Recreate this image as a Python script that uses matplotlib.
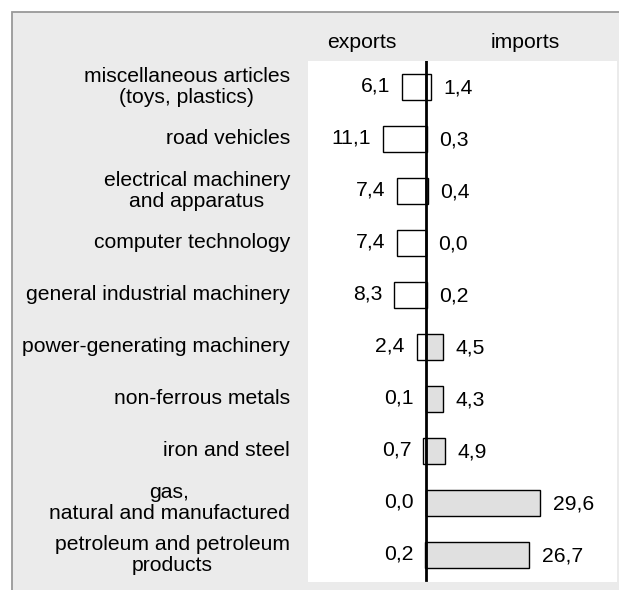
import numpy as np
import matplotlib.pyplot as plt
from matplotlib.patches import Rectangle

plt.rcParams['font.family'] = ['Liberation Sans', 'DejaVu Sans']

# data, top to bottom
categories = [
    "miscellaneous articles\n(toys, plastics)",
    "road vehicles",
    "electrical machinery\nand apparatus",
    "computer technology",
    "general industrial machinery",
    "power-generating machinery",
    "non-ferrous metals",
    "iron and steel",
    "gas,\nnatural and manufactured",
    "petroleum and petroleum\nproducts",
]
exports = [6.1, 11.1, 7.4, 7.4, 8.3, 2.4, 0.1, 0.7, 0.0, 0.2]
imports = [1.4, 0.3, 0.4, 0.0, 0.2, 4.5, 4.3, 4.9, 29.6, 26.7]


def fmt(v):
    return f"{v:.1f}".replace('.', ',')


W, H = 619, 590
fig = plt.figure(figsize=(W / 100, H / 100), dpi=100)
fig.patch.set_facecolor('white')

# grey frame behind everything
fig.patches.append(Rectangle((12 / W, -0.05), 1.0, 1 - 12 / H + 0.05,
                             transform=fig.transFigure, facecolor='#ebebeb',
                             edgecolor='#999999', linewidth=1.3, zorder=-10))

ax = fig.add_axes([308 / W, 8 / H, 309 / W, 521 / H])
ax.set_facecolor('white')
for s in ax.spines.values():
    s.set_visible(False)
ax.set_xticks([])
ax.set_yticks([])

y = np.arange(len(categories))
exp = np.array(exports)
imp = np.array(imports)
imp_colors = ['#e0e0e0' if i > e else 'white' for e, i in zip(exp, imp)]

ax.barh(y, -exp, height=0.5, color='white', edgecolor='black', linewidth=1.0, zorder=2)
ax.barh(y, imp, height=0.5, color=imp_colors, edgecolor='black', linewidth=1.0, zorder=2)
ax.axvline(0, color='black', linewidth=2.0, ymin=0.004, ymax=1.0, zorder=3)

ax.set_xlim(-30.5, 49.4)
ax.set_ylim(9.52, -0.5)

fs = 15.2
for yi, e, i, cat in zip(y, exp, imp, categories):
    ax.annotate(fmt(e), xy=(-e, yi), xytext=(-8.5, 1), textcoords='offset points',
                ha='right', va='center', fontsize=fs)
    ax.annotate(fmt(i), xy=(i, yi), xytext=(9, -1), textcoords='offset points',
                ha='left', va='center', fontsize=fs)
    ax.annotate(cat, xy=(0, yi), xycoords=('axes fraction', 'data'),
                xytext=(-13, 0), textcoords='offset points',
                ha='right', va='center', multialignment='center',
                fontsize=fs, linespacing=1.15, annotation_clip=False)

fig.text(362 / W, 1 - 43 / H, "exports", ha='center', va='center', fontsize=fs)
fig.text(525 / W, 1 - 43 / H, "imports", ha='center', va='center', fontsize=fs)

fig.savefig('out.png', dpi=100)
